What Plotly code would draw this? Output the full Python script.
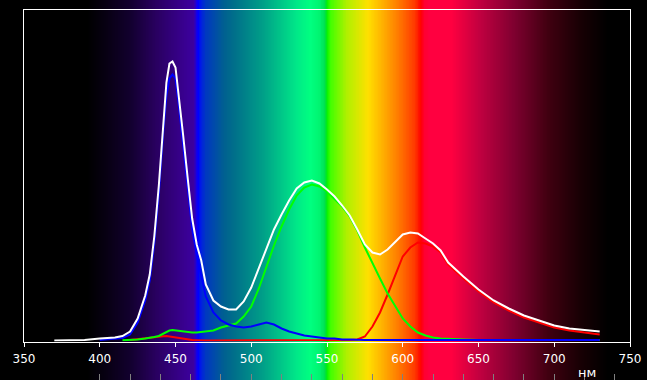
import numpy as np
import plotly.graph_objects as go

# ---- data ----
wavelength = [370, 380, 390, 400, 405, 410, 415, 420, 425, 430, 433, 436, 439, 442, 444, 446,
              448, 450, 452, 455, 458, 461, 464, 467, 470, 475, 480, 485, 490, 495, 500, 505,
              510, 515, 520, 525, 530, 535, 540, 545, 550, 555, 560, 565, 570, 575, 580, 585,
              590, 595, 600, 605, 610, 615, 620, 625, 630, 640, 650, 660, 670, 680, 690, 700,
              710, 720, 730]

total = [0, 0, 0.5, 2, 2.5, 3, 4.5, 9, 22, 45, 66, 104, 155, 220, 258, 277,
         279, 273, 248, 206, 163, 122, 96, 80, 56, 40, 34, 31, 31, 39, 53, 72,
         92, 111, 126, 140, 152, 158, 160, 157, 151, 144, 135, 125, 111, 96, 88, 86,
         91, 99, 106, 108, 107, 102, 97, 90, 78, 64, 51, 40, 32, 25, 20, 15,
         12, 10.5, 9]

blue = [None, None, None, 0.5, 1, 1.5, 2.5, 6, 18, 40, 60, 97, 147, 210, 245, 262,
        266, 262, 238, 196, 153, 112, 86, 66, 44, 28, 20, 16, 14, 13, 14, 16,
        18, 16, 12, 9, 7, 5, 4, 3, 2, 2, 1, 1, 0.5, 0.5, 0.5, 0.5,
        0.5, 0.5, 0.5, 0.5, 0.5, 0.5, 0.5, 0.5, 0.5, 0.5, 0.5, 0.5, 0.5, 0.5, 0.5, 0.5,
        0.5, 0.5, 0.5]

green = [None, None, None, None, None, None, 0.3, 0.5, 1, 2, 2.5, 3.5, 4.5, 7, 9, 10,
         10.5, 10, 9.5, 9, 8.5, 8, 8, 8.5, 9, 10, 13, 15, 17, 24, 34, 52,
         74, 95, 114, 131, 145, 153, 156, 154, 149, 142, 134, 124, 110, 93, 77, 62,
         47, 34, 22, 14, 8, 5, 3, 2, 1.5, 1, 0.5, 0.5, 0.5, 0.5, 0.5, 0.5,
         0.5, 0.5, 0.5]

red = [None, None, None, None, None, None, None, 0.5, 1.5, 2.5, 3, 3.5, 4, 4.3, 4.5, 4,
       3.5, 3, 2.5, 1.5, 1, 0.5, 0.3, 0, 0, 0, 0, 0, 0, 0, 0, 0,
       0, 0, 0, 0, 0, 0, 0, 0, 0, 0, 0, 0.5, 1, 4, 14, 28,
       46, 66, 84, 93, 98, 97, 94, 88, 76, 62, 49, 38, 30, 23, 18, 13,
       10, 8, 6]

x_ticks = [350, 400, 450, 500, 550, 600, 650, 700, 750]
minor_ticks = list(range(400, 741, 20))
unit_label = "нм"

# ---- spectrum background colour stops (nm, colour) ----
spectrum_stops = [
    (350, "#000000"), (392, "#000000"), (405, "#080014"), (420, "#12002e"),
    (438, "#2a0062"), (455, "#38008e"), (462, "#3c00a0"), (463.5, "#2000d8"),
    (465, "#0000ff"), (467, "#0020e0"), (470, "#0038c0"), (482, "#006090"),
    (489, "#00708a"), (508, "#00a088"), (530, "#00e888"), (539, "#00ff80"),
    (545, "#00f470"), (548.5, "#00e050"), (550, "#00f000"), (552, "#40ff00"),
    (563, "#b0f000"), (577, "#ffe000"), (585, "#ffb800"), (596, "#ff8000"),
    (608, "#ff3800"), (612, "#ff0000"), (614, "#ff0030"), (618, "#ff0040"),
    (632, "#ff0040"), (651, "#c00040"), (673, "#800030"), (696, "#400010"),
    (717, "#180004"), (735, "#000000"), (750, "#000000"),
]
colorscale = [[(w - 350) / 400, c] for w, c in spectrum_stops]
bg_x = np.arange(350, 750.01, 0.5)
bg_z = [list(bg_x), list(bg_x)]

fig = go.Figure()
fig.add_trace(go.Heatmap(x=bg_x, y=[0, 1], z=bg_z, colorscale=colorscale, zmin=350, zmax=750,
                         showscale=False, hoverinfo="skip", xaxis="x", yaxis="y"))

line_w = 2
for vals, col in [(red, "#ff0000"), (green, "#00ff00"), (blue, "#0000ff"), (total, "#ffffff")]:
    fig.add_trace(go.Scatter(x=wavelength, y=vals, mode="lines", line=dict(color=col, width=line_w),
                             connectgaps=False, showlegend=False, xaxis="x2", yaxis="y2"))

H = 380
fig.update_layout(
    width=647, height=380,
    margin=dict(l=24, r=17, t=0, b=0),
    paper_bgcolor="#000000", plot_bgcolor="rgba(0,0,0,0)",
    showlegend=False,
    font=dict(family="DejaVu Sans, Verdana, sans-serif", color="#ffffff", size=12),
    xaxis=dict(domain=[0, 1], range=[350, 750], anchor="y", showgrid=False, zeroline=False,
               showline=False, showticklabels=False, ticks="inside", tickvals=minor_ticks,
               ticklen=6, tickwidth=1, tickcolor="#808080"),
    yaxis=dict(domain=[0, 1], range=[0, 1], visible=False, fixedrange=True),
    xaxis2=dict(domain=[0, 1], range=[350, 750], anchor="y2", showgrid=False, zeroline=False,
                showline=True, linecolor="#ffffff", linewidth=1, mirror=True,
                ticks="outside", tickvals=x_ticks, ticklen=4, tickcolor="#ffffff",
                ticklabelstandoff=2,
                tickfont=dict(family="DejaVu Sans, Verdana, sans-serif", size=12, color="#ffffff")),
    yaxis2=dict(domain=[(H - 341.5) / H, (H - 9.5) / H], range=[-1, 331], anchor="x2",
                showgrid=False, zeroline=False, showline=True, linecolor="#ffffff",
                linewidth=1, mirror=True, showticklabels=False, ticks=""),
    annotations=[dict(text=unit_label, xref="paper", yref="paper",
                      x=(587 - 24) / 606, y=(H - 372) / H, showarrow=False,
                      font=dict(family="DejaVu Sans, Verdana, sans-serif", size=13, color="#ffffff"),
                      xanchor="center", yanchor="middle")],
)

fig.write_html("out.html")
